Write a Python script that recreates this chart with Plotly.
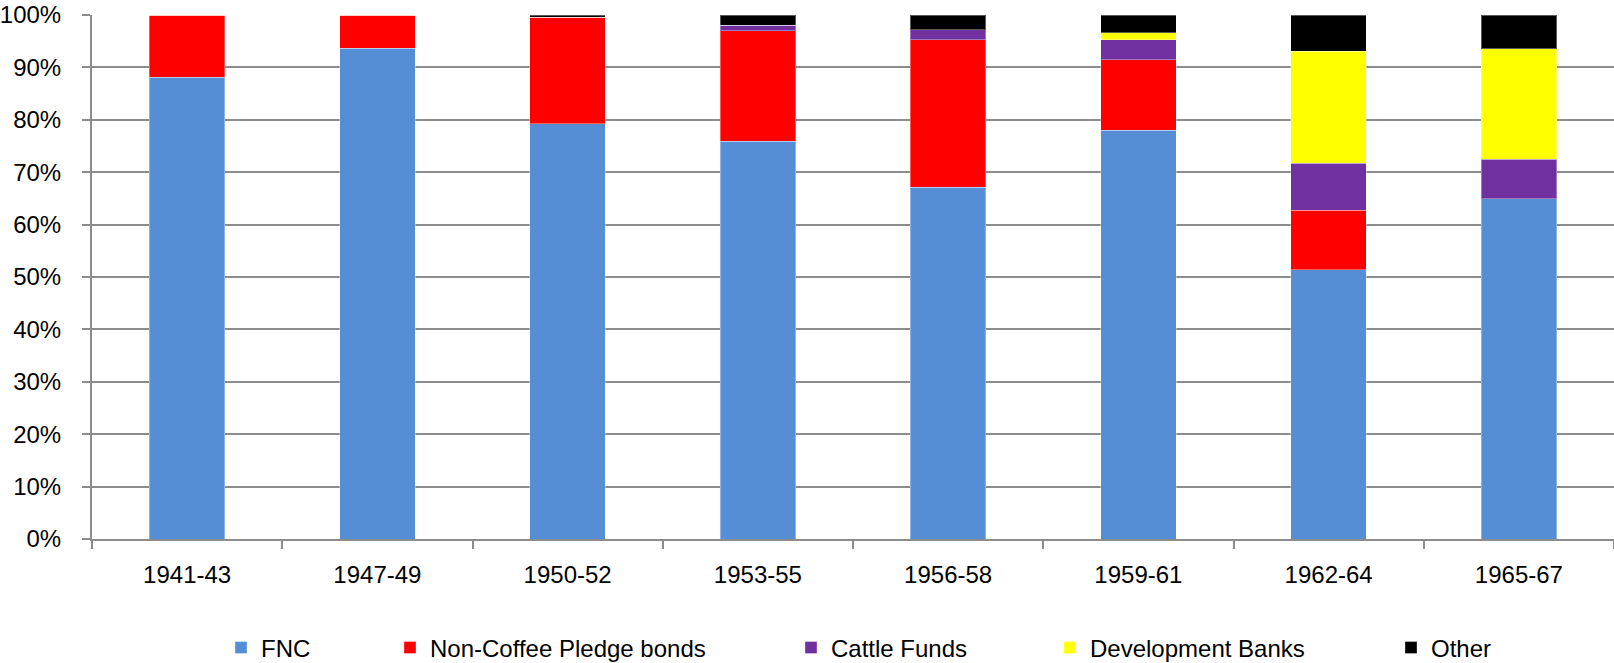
import plotly.graph_objects as go

periods = ["1941-43", "1947-49", "1950-52", "1953-55", "1956-58", "1959-61", "1962-64", "1965-67"]
fnc = [88.1, 93.7, 79.2, 75.9, 67.1, 78.0, 51.4, 64.9]
non_coffee = [11.9, 6.3, 20.4, 21.1, 28.2, 13.5, 11.3, 0.0]
cattle = [0.0, 0.0, 0.0, 1.0, 1.9, 3.8, 9.0, 7.6]
dev_banks = [0.0, 0.0, 0.0, 0.0, 0.0, 1.3, 21.4, 21.1]
other = [0.0, 0.0, 0.4, 2.0, 2.8, 3.4, 6.9, 6.4]

series = [
    ("FNC", fnc, "#558ED5"),
    ("Non-Coffee Pledge bonds", non_coffee, "#FF0000"),
    ("Cattle Funds", cattle, "#7030A0"),
    ("Development Banks", dev_banks, "#FFFF00"),
    ("Other", other, "#000000"),
]
legend_left_px = [221, 390, 791, 1050, 1391]

W, H = 1614, 663
FONT = "Liberation Sans, Arial, sans-serif"

fig = go.Figure()
for i, (name, vals, col) in enumerate(series):
    lname = "legend" if i == 0 else f"legend{i+1}"
    fig.add_trace(go.Bar(
        x=periods, y=[v / 100 for v in vals], name=name, showlegend=True,
        marker=dict(color=col, line=dict(width=1, color="rgba(255,255,255,0.35)")),
        legend=lname,
    ))

layout = dict(
    width=W, height=H, showlegend=True,
    barmode="stack", bargap=0.603,
    plot_bgcolor="white", paper_bgcolor="white",
    margin=dict(l=90, r=0, t=15, b=124),
    font=dict(family=FONT, size=24, color="#000000"),
    xaxis=dict(
        type="category", showgrid=False, showline=True, linecolor="#8c8c8c", linewidth=2,
        ticks="outside", tickson="boundaries", ticklen=8, tickcolor="#8c8c8c", tickwidth=2,
        tickfont=dict(size=24), ticklabelstandoff=13,
    ),
    yaxis=dict(
        range=[0, 1], tickformat=".0%", dtick=0.1,
        showgrid=True, gridcolor="#8c8c8c", gridwidth=2,
        showline=True, linecolor="#8c8c8c", linewidth=2,
        ticks="outside", ticklen=8, tickcolor="#8c8c8c", tickwidth=2,
        tickfont=dict(size=24), ticklabelstandoff=16, zeroline=False,
    ),
)
for i, px in enumerate(legend_left_px):
    lname = "legend" if i == 0 else f"legend{i+1}"
    layout[lname] = dict(
        orientation="h", xref="container", yref="container",
        x=px / W, xanchor="left", y=1 - 648 / H, yanchor="middle",
        font=dict(family=FONT, size=24), bgcolor="rgba(0,0,0,0)", borderwidth=0,
        visible=True,
    )
fig.update_layout(**layout)
fig.write_html("out.html")
